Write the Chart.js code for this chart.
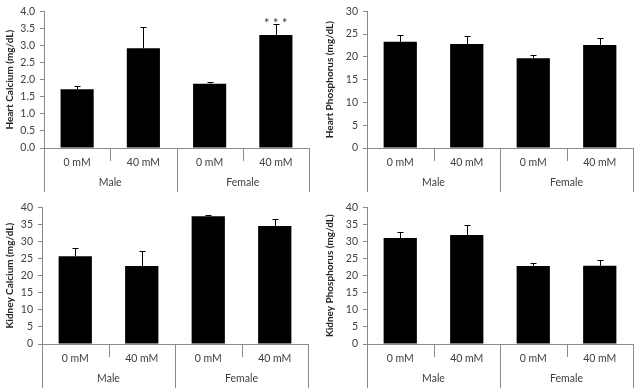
<!DOCTYPE html>
<html>
<head>
<meta charset="utf-8">
<script src="https://cdn.jsdelivr.net/npm/chart.js@4.4.1/dist/chart.umd.min.js"></script>
<style>
  body { margin: 0; background: #fff; }
  #wrap { position: relative; width: 641px; height: 392px; }
  canvas { position: absolute; }
</style>
</head>
<body>
<div id="wrap">
  <canvas id="c1" width="320" height="196" style="left:0;top:0"></canvas>
  <canvas id="c2" width="320" height="196" style="left:320px;top:0"></canvas>
  <canvas id="c3" width="320" height="196" style="left:0;top:196px"></canvas>
  <canvas id="c4" width="320" height="196" style="left:320px;top:196px"></canvas>
</div>
<script>
// categories
const groups = ["Male", "Female"];
const doses = ["0 mM", "40 mM", "0 mM", "40 mM"];

// series values (mean) and upper error (SEM)
const heartCalcium = [1.72, 2.92, 1.88, 3.31];
const heartCalciumErr = [0.08, 0.63, 0.05, 0.31];
const heartPhosphorus = [23.3, 22.8, 19.7, 22.6];
const heartPhosphorusErr = [1.6, 1.8, 0.8, 1.5];
const kidneyCalcium = [25.7, 22.8, 37.4, 34.5];
const kidneyCalciumErr = [2.5, 4.4, 0.3, 2.0];
const kidneyPhosphorus = [31.0, 31.9, 22.8, 22.9];
const kidneyPhosphorusErr = [1.9, 2.9, 0.8, 1.8];

const FONT = "Lato, 'Liberation Sans', sans-serif";
const TEXT = "#404040";
const AXIS = "#8a8a8a";

// error bars, significance stars and the two-level category axis
const extrasPlugin = {
  id: "extras",
  afterDatasetsDraw(chart) {
    const cfg = chart.options.plugins.extras;
    const meta = chart.getDatasetMeta(0);
    const y = chart.scales.y;
    const ctx = chart.ctx;
    ctx.save();
    ctx.strokeStyle = "#000";
    ctx.lineWidth = 1;
    meta.data.forEach((bar, i) => {
      const v = chart.data.datasets[0].data[i];
      const top = Math.round(y.getPixelForValue(v + cfg.errors[i])) + 0.5;
      const x = Math.round(bar.x) + 0.5;
      ctx.beginPath();
      ctx.moveTo(x, bar.y);
      ctx.lineTo(x, top);
      ctx.moveTo(x - 3, top);
      ctx.lineTo(x + 3, top);
      ctx.stroke();
      if (cfg.stars && cfg.stars[i]) {
        ctx.fillStyle = TEXT;
        ctx.font = "13px " + FONT;
        ctx.textAlign = "center";
        ctx.textBaseline = "alphabetic";
        [-9, 0, 9].forEach(dx => ctx.fillText("*", bar.x + dx, top + 3));
      }
    });
    ctx.restore();
  },
  afterDraw(chart) {
    const x = chart.scales.x;
    const base = chart.chartArea.bottom;
    const ctx = chart.ctx;
    ctx.save();
    ctx.strokeStyle = AXIS;
    ctx.lineWidth = 1;
    for (let i = 0; i <= doses.length; i++) {
      const px = Math.round(x.getPixelForValue(i - 0.5)) + 0.5;
      const outer = i % 2 === 0;
      ctx.beginPath();
      ctx.moveTo(px, base);
      ctx.lineTo(px, outer ? 192 : 161);
      ctx.stroke();
    }
    ctx.fillStyle = TEXT;
    ctx.font = "10.5px " + FONT;
    ctx.textAlign = "center";
    ctx.textBaseline = "middle";
    groups.forEach((g, gi) => {
      ctx.fillText(g, x.getPixelForValue(gi * 2 + 0.5), 183);
    });
    ctx.restore();
  }
};

const makePanel = (id, values, errors, yMax, step, title, pad, stars) => {
  const ctx = document.getElementById(id).getContext("2d");
  new Chart(ctx, {
    type: "bar",
    data: {
      labels: doses,
      datasets: [{
        data: values,
        backgroundColor: "#000",
        borderWidth: 0,
        barPercentage: 0.5,
        categoryPercentage: 1
      }]
    },
    options: {
      responsive: false,
      animation: false,
      devicePixelRatio: 1,
      layout: { padding: { left: 0, top: pad.top, right: pad.right, bottom: 0 } },
      plugins: {
        legend: { display: false },
        tooltip: { enabled: false },
        extras: { errors: errors, stars: stars }
      },
      scales: {
        x: {
          offset: true,
          grid: { display: false, drawTicks: false },
          border: { color: AXIS },
          ticks: { color: TEXT, font: { family: FONT, size: 10.5 }, padding: 8, maxRotation: 0 },
          afterFit: (s) => { s.height = 196 - pad.bottom; }
        },
        y: {
          min: 0,
          max: yMax,
          ticks: {
            stepSize: step,
            color: TEXT,
            padding: 5,
            font: { family: FONT, size: 10.5 },
            callback: (v) => step < 1 ? v.toFixed(1) : v
          },
          grid: { drawOnChartArea: false, tickLength: 4, color: AXIS },
          border: { color: AXIS },
          title: {
            display: true,
            text: title,
            color: "#262626",
            font: { family: FONT, size: 10, weight: "bold" },
            padding: { top: 4, bottom: 0 }
          },
          afterFit: (s) => { s.width = pad.left; }
        }
      }
    },
    plugins: [extrasPlugin]
  });
};

makePanel("c1", heartCalcium, heartCalciumErr, 4, 0.5, "Heart Calcium (mg/dL)",
  { left: 44, top: 10, right: 11, bottom: 148 }, [false, false, false, true]);
makePanel("c2", heartPhosphorus, heartPhosphorusErr, 30, 5, "Heart Phosphorus (mg/dL)",
  { left: 47, top: 10, right: 7, bottom: 148 });
makePanel("c3", kidneyCalcium, kidneyCalciumErr, 40, 5, "Kidney Calcium (mg/dL)",
  { left: 42, top: 9, right: 12, bottom: 148 });
makePanel("c4", kidneyPhosphorus, kidneyPhosphorusErr, 40, 5, "Kidney Phosphorus (mg/dL)",
  { left: 47, top: 9, right: 7, bottom: 148 });
</script>
</body>
</html>
